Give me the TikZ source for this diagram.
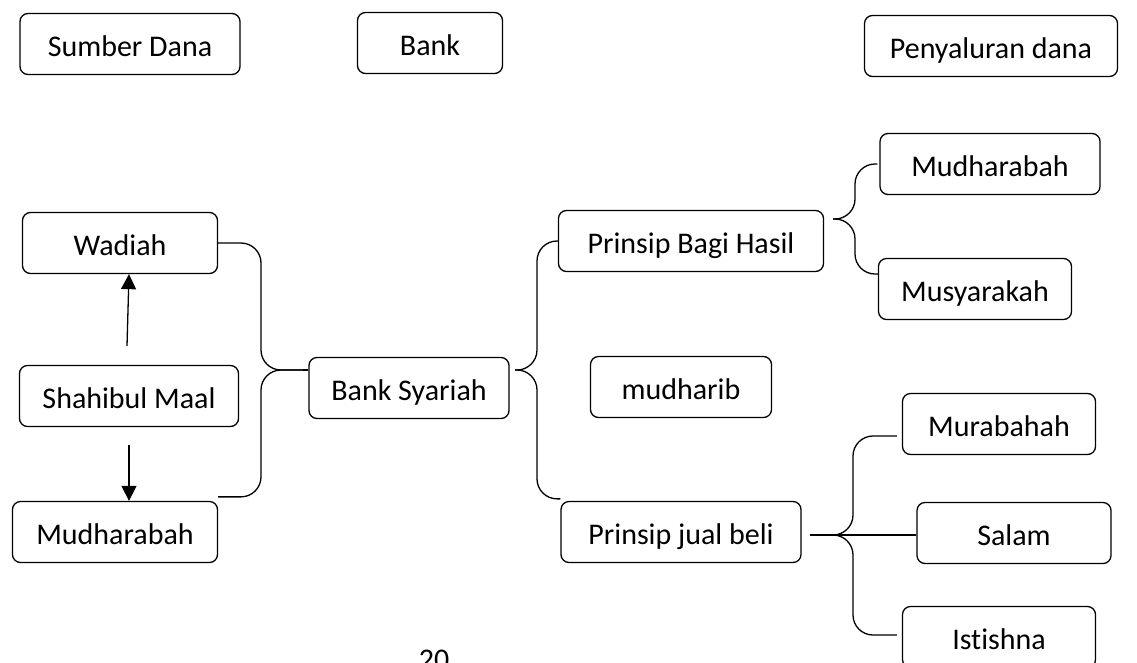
\documentclass[tikz,border=0pt]{standalone}
\usepackage{fontspec}
\setmainfont{Carlito}[Ligatures={NoCommon}]
\usetikzlibrary{arrows.meta}

\tikzset{
  box/.style={draw, line width=1.3pt, rounded corners=8pt, minimum height=61pt, inner sep=0pt,
    text height=27pt, text depth=3pt},
  brace/.style={line width=1.3pt, rounded corners=20pt},
  arr/.style={line width=1.3pt, -{Triangle[width=15pt,length=15pt]}}
}

\begin{document}
\begin{tikzpicture}[x=1pt, y=-1pt, font=\fontsize{30}{36}\selectfont]
        \useasboundingbox (0,0) rectangle (1137,662);

        % Column headings
        \node[box, minimum width=220pt] (sumber) at (130,44) {Sumber Dana};
        \node[box, minimum width=145pt] (bank) at (430,43) {Bank};
        \node[box, minimum width=253pt] (salur) at (991,46) {Penyaluran dana};

        % Sources of funds
        \node[box, minimum width=195pt] (wadiah) at (120,243) {Wadiah};
        \node[box, minimum width=219pt] (shahib) at (129,396) {Shahibul Maal};
        \node[box, minimum width=205pt] (mudL) at (115,532) {Mudharabah};

        % Bank
        \node[box, minimum width=200pt] (syariah) at (409,388) {Bank Syariah};
        \node[box, minimum width=181pt] (mudharib) at (681,387) {mudharib};

        % Principles
        \node[box, minimum width=265pt] (hasil) at (691,241) {Prinsip Bagi Hasil};
        \node[box, minimum width=240pt] (jual) at (681,532) {Prinsip jual beli};

        % Contracts
        \node[box, minimum width=220pt] (mudR) at (990,164) {Mudharabah};
        \node[box, minimum width=193pt] (musy) at (975,289) {Musyarakah};
        \node[box, minimum width=193pt] (murab) at (999,424) {Murabahah};
        \node[box, minimum width=194pt] (salam) at (1014,533) {Salam};
        \node[box, minimum width=193pt] (istis) at (999,637) {Istishna};

        % Page number
        \node[anchor=north, inner sep=0pt] (page) at (434,650) {20};

        % Arrows from Shahibul Maal
        \draw[arr] ([xshift=-2pt, yshift=19pt]shahib.north) -- ([xshift=9pt]wadiah.south);
        \draw[arr] ([yshift=-18pt]shahib.south) -- ([xshift=14pt]mudL.north);

        % Brace tips
        \coordinate (tipA) at (303,370);
        \coordinate (tipB) at (515,370);
        \coordinate (tipC) at (833,219);
        \coordinate (tipD) at (810,535);

        % Brace into Bank Syariah
        \draw[brace] (wadiah.east) -| (261,370) -- (tipA);
        \draw[brace] ([yshift=4pt]mudL.north east) -| (261,370) -- (tipA);
        \draw[line width=1.3pt] (tipA) -- (syariah.west |- tipA);

        % Brace out of Bank Syariah
        \draw[brace] (hasil.west) -| (537,370) -- (tipB);
        \draw[brace] ([yshift=2pt]jual.north west) -| (537,370) -- (tipB);

        % Brace out of Prinsip Bagi Hasil
        \draw[brace] ([xshift=-2pt]mudR.west) -| (855,219) -- (tipC);
        \draw[brace] ([yshift=15pt]musy.west) -| (855,219) -- (tipC);

        % Brace out of Prinsip jual beli
        \draw[brace] ([xshift=-5pt, yshift=-12pt]murab.west) -| (853,535) -- (tipD);
        \draw[brace] ([xshift=-5pt, yshift=2pt]istis.west) -| (853,535) -- (tipD);
        \draw[line width=1.3pt] (tipD) -- (salam.west |- tipD);

\end{tikzpicture}
\end{document}
